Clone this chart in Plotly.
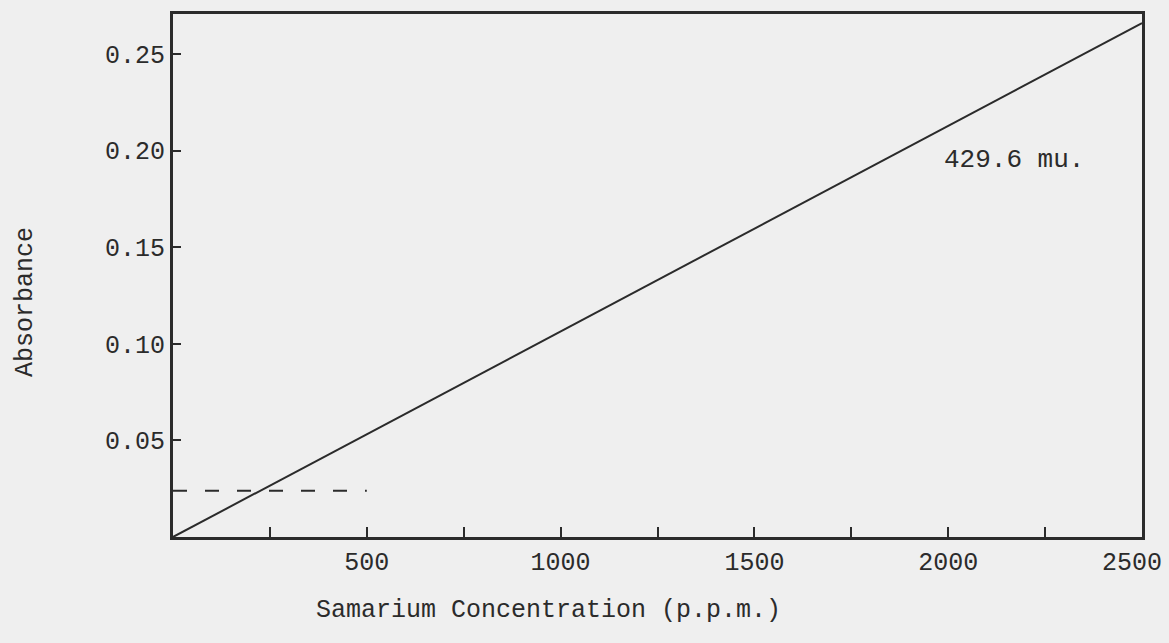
import plotly.graph_objects as go

# Calibration line for samarium at 429.6 mu
conc_ppm = [0, 2500]
absorbance = [0.0, 0.266]

# Dashed reference level
ref_conc = [0, 500]
ref_abs = [0.024, 0.024]

x_tick_vals = [250, 500, 750, 1000, 1250, 1500, 1750, 2000, 2250, 2500]
x_tick_text = ["", "500", "", "1000", "", "1500", "", "2000", "", ""]
x_end_label = "2500"  # drawn separately so it stays inside the page
y_tick_vals = [0.05, 0.10, 0.15, 0.20, 0.25]
y_tick_text = ["0.05", "0.10", "0.15", "0.20", "0.25"]

ink = "#2b2b2b"
paper = "#efefef"
font_family = "Liberation Mono, Courier New, monospace"

fig = go.Figure()
fig.add_trace(go.Scatter(
    x=conc_ppm, y=absorbance, mode="lines",
    line=dict(color=ink, width=2), showlegend=False, hoverinfo="skip",
))
fig.add_trace(go.Scatter(
    x=ref_conc, y=ref_abs, mode="lines",
    line=dict(color=ink, width=2, dash="14px,18px"), showlegend=False, hoverinfo="skip",
))

fig.add_annotation(
    x=2170, y=0.195, text="429.6 mu.", showarrow=False,
    font=dict(family=font_family, size=26, color=ink),
)

# Last x tick label, nudged left of the frame corner
fig.add_annotation(
    x=x_tick_vals[-1], y=0, xref="x", yref="y",
    xanchor="center", yanchor="top", xshift=-10, yshift=-10,
    text=x_end_label, showarrow=False,
    font=dict(family=font_family, size=25, color=ink),
)

# Axis titles placed as free text
fig.add_annotation(
    xref="paper", yref="paper", x=0.388, y=-0.14,
    xanchor="center", yanchor="middle",
    text="Samarium Concentration (p.p.m.)", showarrow=False,
    font=dict(family=font_family, size=25, color=ink),
)
fig.add_annotation(
    xref="paper", yref="paper", x=-0.153, y=0.449, textangle=-90,
    xanchor="center", yanchor="middle",
    text="Absorbance", showarrow=False,
    font=dict(family=font_family, size=25, color=ink),
)

fig.update_layout(
    width=1169, height=643,
    margin=dict(l=173, r=27, t=14, b=106),
    paper_bgcolor=paper, plot_bgcolor=paper,
    font=dict(family=font_family, size=25, color=ink),
    xaxis=dict(
        range=[0, 2500.01], showgrid=False, zeroline=False,
        showline=True, linecolor=ink, linewidth=3, mirror=True,
        ticks="inside", ticklen=10, tickwidth=2, tickcolor=ink,
        tickvals=x_tick_vals, ticktext=x_tick_text,
        automargin=False,
    ),
    yaxis=dict(
        range=[0, 0.2707], showgrid=False, zeroline=False,
        showline=True, linecolor=ink, linewidth=3, mirror=True,
        ticks="inside", ticklen=8, tickwidth=2, tickcolor=ink,
        tickvals=y_tick_vals, ticktext=y_tick_text,
        automargin=False,
    ),
)

fig.write_html("out.html")
